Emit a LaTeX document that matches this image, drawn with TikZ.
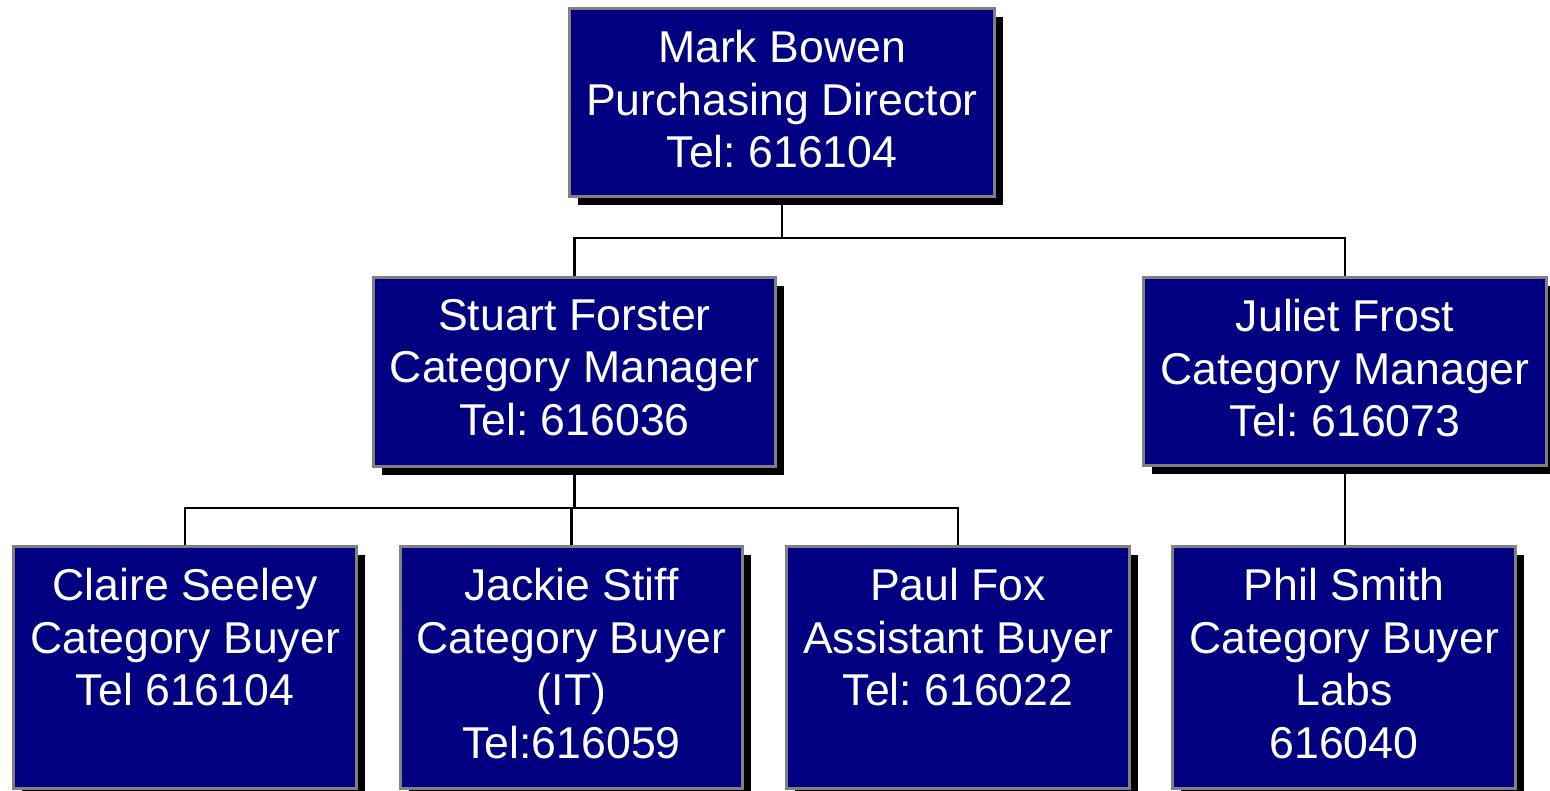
\documentclass[tikz,border=0pt]{standalone}
\usepackage{fontspec}
\setmainfont{Liberation Sans}
\usetikzlibrary{shadows}
\definecolor{boxblue}{HTML}{000080}
\definecolor{boxedge}{HTML}{808080}
\frenchspacing
\begin{document}
\begin{tikzpicture}[x=1pt,y=-1pt,
  orgbox/.style={draw=boxedge, line width=3pt, fill=boxblue, inner sep=0pt,
    anchor=north west, drop shadow={shadow xshift=8pt, shadow yshift=-8pt, fill=black, opacity=1}},
  orgtext/.style={text=white, inner sep=0pt, anchor=north, align=center,
    font=\fontsize{44.6}{52.6}\selectfont},
  conn/.style={draw=black, line width=2.8pt}]
\useasboundingbox (0,0) rectangle (1550,790);

% boxes
\node[orgbox, minimum width=425pt, minimum height=188pt] (mark) at (568,7) {};
\node[orgbox, minimum width=402pt, minimum height=189pt] (stuart) at (372,276) {};
\node[orgbox, minimum width=403pt, minimum height=188pt] (juliet) at (1142,276) {};
\node[orgbox, minimum width=343pt, minimum height=242pt] (claire) at (12,545) {};
\node[orgbox, minimum width=342pt, minimum height=242pt] (jackie) at (399,545) {};
\node[orgbox, minimum width=343pt, minimum height=242pt] (paul) at (785,545) {};
\node[orgbox, minimum width=343pt, minimum height=242pt] (phil) at (1171,545) {};

% texts
\node[orgtext] (marktxt) at ([yshift=-23pt]mark.north) {Mark Bowen\\Purchasing Director\\Tel: 616104};
\node[orgtext] (stuarttxt) at ([yshift=-23pt]stuart.north) {Stuart Forster\\Category Manager\\Tel: 616036};
\node[orgtext] (juliettxt) at ([yshift=-23pt]juliet.north) {Juliet Frost\\Category Manager\\Tel: 616073};
\node[orgtext] (clairetxt) at ([yshift=-23pt]claire.north) {Claire Seeley\\Category Buyer\\Tel 616104};
\node[orgtext] (jackietxt) at ([yshift=-23pt]jackie.north) {Jackie Stiff\\Category Buyer\\(IT)\\Tel:616059};
\node[orgtext] (paultxt) at ([yshift=-23pt]paul.north) {Paul Fox\\Assistant Buyer\\Tel: 616022};
\node[orgtext] (philtxt) at ([yshift=-23pt]phil.north) {Phil Smith\\Category Buyer\\Labs\\616040};

% junctions
\coordinate (j1) at (mark.south |- 0,238);
\coordinate (j2) at (stuart.south |- 0,508);

% connectors
\draw[conn] (mark.south) -- (j1);
\draw[conn] (j1) -| (stuart.north);
\draw[conn] (j1) -| (juliet.north);
\draw[conn] (stuart.south) -- (j2);
\draw[conn] (j2) -| (claire.north);
\draw[conn] (j2) -| (jackie.north);
\draw[conn] (j2) -| (paul.north);
\draw[conn] (juliet.south) -- (phil.north -| juliet.south);
\end{tikzpicture}
\end{document}
